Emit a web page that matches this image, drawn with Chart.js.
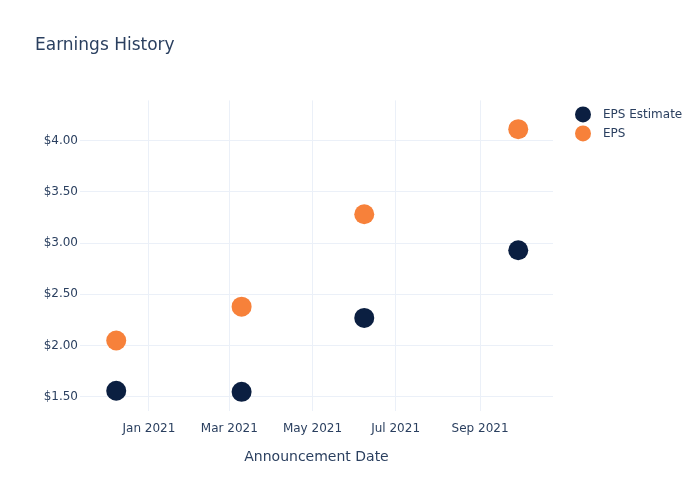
<!DOCTYPE html>
<html>
<head>
<meta charset="utf-8">
<script src="https://cdn.jsdelivr.net/npm/chart.js@4"></script>
<style>
html,body{margin:0;padding:0;background:#fff;}
#wrap{width:700px;height:500px;}
</style>
</head>
<body>
<div id="wrap"><canvas id="c" width="700" height="500"></canvas></div>
<script>
// ---- data ----
const announcementDates = ['2020-12-08', '2021-03-10', '2021-06-08', '2021-09-29'];
const epsEstimate = [1.56, 1.55, 2.27, 2.93];
const epsActual = [2.05, 2.38, 3.28, 4.11];
const xTickDates = ['2021-01-01', '2021-03-01', '2021-05-01', '2021-07-01', '2021-09-01'];
const xTickLabels = ['Jan 2021', 'Mar 2021', 'May 2021', 'Jul 2021', 'Sep 2021'];
const yTickValues = [1.5, 2.0, 2.5, 3.0, 3.5, 4.0];
const xRange = ['2020-11-11T10:00', '2021-10-24T12:00'];
const yRange = [1.363, 4.39];

const toMs = s => Date.parse(s + (s.length === 10 ? 'T00:00:00Z' : ':00Z'));
const tickMap = {};
xTickDates.forEach((d, i) => { tickMap[toMs(d)] = xTickLabels[i]; });

const font = "'DejaVu Sans', sans-serif";
const textColor = '#2a3f5f';
const gridColor = '#ebf0f8';

// legend drawn beside the plot area, plotly-style
const sideLegend = {
  id: 'sideLegend',
  afterDraw(chart) {
    const ctx = chart.ctx;
    const x0 = chart.chartArea.right + 30;
    let y = chart.chartArea.top + 14;
    ctx.save();
    ctx.font = '12px ' + font;
    ctx.textBaseline = 'middle';
    chart.data.datasets.forEach(ds => {
      ctx.beginPath();
      ctx.arc(x0, y, 8, 0, Math.PI * 2);
      ctx.fillStyle = ds.backgroundColor;
      ctx.fill();
      ctx.fillStyle = textColor;
      ctx.fillText(ds.label, x0 + 20, y + 0.5);
      y += 19;
    });
    ctx.restore();
  }
};

new Chart(document.getElementById('c'), {
  type: 'scatter',
  data: {
    datasets: [
      {
        label: 'EPS Estimate',
        data: announcementDates.map((d, i) => ({x: toMs(d), y: epsEstimate[i]})),
        backgroundColor: '#0b1f41',
        borderColor: '#0b1f41',
        pointRadius: 10,
        pointHoverRadius: 10,
        borderWidth: 0
      },
      {
        label: 'EPS',
        data: announcementDates.map((d, i) => ({x: toMs(d), y: epsActual[i]})),
        backgroundColor: '#f7813a',
        borderColor: '#f7813a',
        pointRadius: 10,
        pointHoverRadius: 10,
        borderWidth: 0
      }
    ]
  },
  plugins: [sideLegend],
  options: {
    responsive: false,
    animation: false,
    layout: {padding: {left: 35, right: 147, top: 0, bottom: 0}},
    plugins: {
      tooltip: {enabled: false},
      legend: {display: false},
      title: {
        display: true,
        text: 'Earnings History',
        align: 'start',
        color: textColor,
        font: {family: font, size: 17, weight: 'normal'},
        padding: {top: 35, bottom: 45}
      }
    },
    scales: {
      x: {
        type: 'linear',
        min: toMs(xRange[0]),
        max: toMs(xRange[1]),
        afterBuildTicks: s => { s.ticks = xTickDates.map(d => ({value: toMs(d)})); },
        afterFit: s => { s.height = 89; },
        ticks: {
          color: textColor,
          font: {family: font, size: 12},
          padding: 11,
          maxRotation: 0,
          autoSkip: false,
          callback: v => tickMap[v] || ''
        },
        grid: {color: gridColor, drawTicks: false},
        border: {display: false},
        title: {
          display: true,
          text: 'Announcement Date',
          color: textColor,
          font: {family: font, size: 14},
          padding: {top: 0, bottom: 34}
        }
      },
      y: {
        min: yRange[0],
        max: yRange[1],
        afterBuildTicks: s => { s.ticks = yTickValues.map(v => ({value: v})); },
        afterFit: s => { s.width = 45; },
        ticks: {
          color: textColor,
          font: {family: font, size: 12},
          padding: 2,
          callback: v => '$' + Number(v).toFixed(2)
        },
        grid: {color: gridColor, drawTicks: false},
        border: {display: false}
      }
    }
  }
});
</script>
</body>
</html>
